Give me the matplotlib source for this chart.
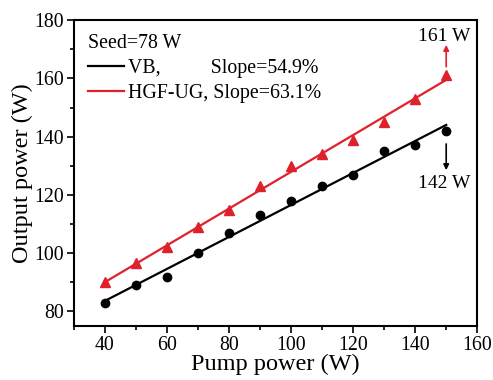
import numpy as np
import matplotlib
matplotlib.use("Agg")
import matplotlib.pyplot as plt
from matplotlib.lines import Line2D

plt.rcParams['font.family'] = ['Liberation Serif', 'DejaVu Serif']

pump = [40, 50, 60, 70, 80, 90, 100, 110, 120, 130, 140, 150]
vb = [83, 89, 92, 100, 107, 113, 118, 123, 127, 135, 137, 142]
hgf = [90, 96.5, 102, 109, 115, 123, 130, 134, 139, 145, 153, 161]

red = '#e0202a'

fig = plt.figure(figsize=(4.93, 3.80), dpi=100)
ax = fig.add_axes([0.150, 0.142, 0.818, 0.805])

# linear fits
xs = np.array([40, 150])
kb, bb = np.polyfit(pump, vb, 1)
kr, br = np.polyfit(pump, hgf, 1)
ax.plot(xs, kb * xs + bb, color='black', lw=1.6)
ax.plot(xs, kr * xs + br, color=red, lw=1.6)

ax.plot(pump, vb, 'o', color='black', ms=6)
ax.plot(pump, hgf, '^', color=red, ms=6.5)

# arrows + labels
ax.annotate('', xy=(150, 171.5), xytext=(150, 164),
            arrowprops=dict(arrowstyle='-|>', color=red, lw=1.2, mutation_scale=8,
                            shrinkA=0, shrinkB=0))
ax.text(149.3, 171.3, '161 W', ha='center', va='bottom', fontsize=14)
ax.annotate('', xy=(150, 128.5), xytext=(150, 137.5),
            arrowprops=dict(arrowstyle='-|>', color='black', lw=1.2, mutation_scale=8,
                            shrinkA=0, shrinkB=0))
ax.text(149.3, 124, '142 W', ha='center', va='center', fontsize=14)

handles = [Line2D([], [], color='black', lw=1.6),
           Line2D([], [], color=red, lw=1.6)]
labels = ['VB,          Slope=54.9%', 'HGF-UG, Slope=63.1%']
leg = ax.legend(handles, labels, title='Seed=78 W', loc='upper left',
                frameon=False, fontsize=14.3, title_fontsize=14.3,
                handlelength=1.8, handletextpad=0.2, labelspacing=0.3,
                borderaxespad=0.3, borderpad=0.4)
leg._legend_box.align = 'left'
leg._legend_box.sep = 4

ax.set_xlim(30, 160)
ax.set_ylim(75, 180)
ax.set_xticks([40, 60, 80, 100, 120, 140, 160])
ax.set_xticks(np.arange(30, 161, 10), minor=True)
ax.set_yticks([80, 100, 120, 140, 160, 180])
ax.set_yticks(np.arange(90, 180, 20), minor=True)
ax.tick_params(which='both', direction='out', labelsize=14.3, width=1.2, pad=2)
ax.tick_params(which='major', length=5)
ax.tick_params(which='minor', length=3)
for s in ax.spines.values():
    s.set_linewidth(1.5)

ax.set_xlabel('Pump power (W)', fontsize=17.5, labelpad=-1)
ax.set_ylabel('Output power (W)', fontsize=17.5, labelpad=1)

fig.savefig('out.png', dpi=100)
